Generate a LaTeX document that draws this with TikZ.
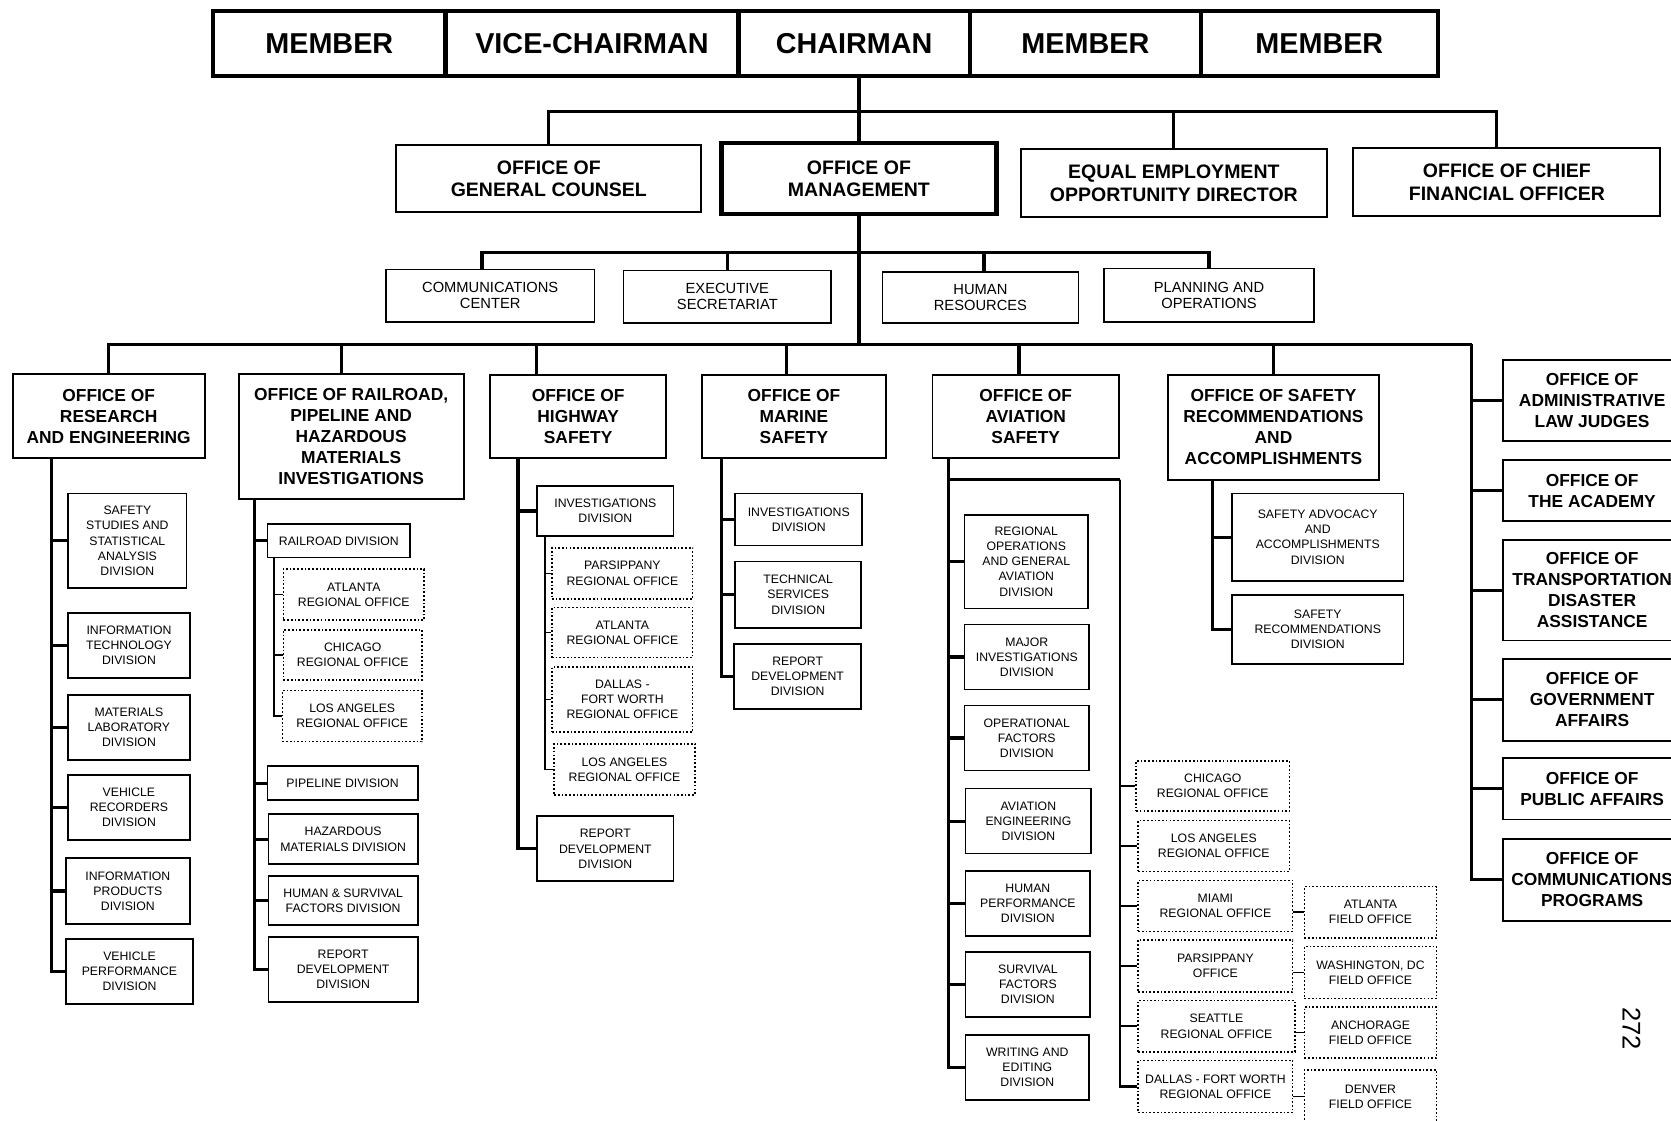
\documentclass[tikz,border=0pt]{standalone}
\usepackage{fontspec}
\setmainfont{Liberation Sans}

\newcommand{\boardfont}{\fontsize{27}{30}\selectfont\bfseries}
\newcommand{\officefont}{\fontsize{18.3}{21}\selectfont\bfseries}
\newcommand{\stafffont}{\fontsize{13.8}{15}\selectfont}
\newcommand{\headfont}{\fontsize{16.3}{19.7}\selectfont\bfseries}
\newcommand{\divfont}{\fontsize{11.5}{14.2}\selectfont}

\begin{document}
\begin{tikzpicture}[x=1pt, y=-1pt,
        sz/.style 2 args={minimum width=#1pt, minimum height=#2pt},
        board/.style={draw, line width=4pt, inner sep=0pt, font=\boardfont},
        office/.style={draw, line width=1.8pt, inner sep=0pt, align=center, font=\officefont},
        staff/.style={draw, line width=1.5pt, inner sep=0pt, align=center, font=\stafffont},
        head/.style={draw, line width=1.8pt, inner sep=0pt, align=center, font=\headfont},
        division/.style={draw, line width=1.6pt, inner sep=0pt, align=center, font=\divfont},
        regional/.style={draw, line width=1.4pt, dash pattern=on 1.6pt off 1.9pt, inner sep=0pt, align=center, font=\divfont},
        link/.style={line width=3pt},
        rolink/.style={line width=2pt},
        sublink/.style={line width=1.4pt},
        ]
        \path[fill=white, use as bounding box] (0,0) rectangle (1568,1051);

        %Board
        \node[board, sz={218}{61}]   (member1) at (309,40.5)    {MEMBER};
        \node[board, sz={275}{61}]   (vice)    at (555.5,40.5)  {VICE-CHAIRMAN};
        \node[board, sz={217}{61}]   (chair)   at (801.5,40.5)  {CHAIRMAN};
        \node[board, sz={217}{61}]   (member2) at (1018.5,40.5) {MEMBER};
        \node[board, sz={222}{61}]   (member3) at (1238,40.5)   {MEMBER};

        %Staff offices
        \node[office, sz={286}{63}]  (counsel) at (515,167.5)   {OFFICE OF\\GENERAL COUNSEL};
        \node[office, sz={258}{67}, line width=4pt] (mgmt) at (806,167.5) {OFFICE OF\\MANAGEMENT};
        \node[office, sz={287}{64}]  (eeo)     at (1101.5,172)  {EQUAL EMPLOYMENT\\OPPORTUNITY DIRECTOR};
        \node[office, sz={288}{64}]  (cfo)     at (1414,171)    {OFFICE OF CHIEF\\FINANCIAL OFFICER};

        \node[staff, sz={196}{49}]   (comm)    at (460,277.5)   {COMMUNICATIONS\\CENTER};
        \node[staff, sz={195}{49}]   (exec)    at (682.5,278.5) {EXECUTIVE\\SECRETARIAT};
        \node[staff, sz={184}{48}]   (hr)      at (920,279)     {HUMAN\\RESOURCES};
        \node[staff, sz={197}{50}]   (plan)    at (1134.5,277)  {PLANNING AND\\OPERATIONS};

        %Program offices
        \node[head, sz={180}{79}]    (research) at (102,390.5)  {OFFICE OF\\RESEARCH\\AND ENGINEERING};
        \node[head, sz={211}{117}]   (rail)     at (329.5,409.5) {OFFICE OF RAILROAD,\\PIPELINE AND\\HAZARDOUS\\MATERIALS\\INVESTIGATIONS};
        \node[head, sz={165}{78}]    (highway)  at (542.5,391)  {OFFICE OF\\HIGHWAY\\SAFETY};
        \node[head, sz={172}{78}]    (marine)   at (745,391)    {OFFICE OF\\MARINE\\SAFETY};
        \node[head, sz={175}{78}]    (aviation) at (962.5,391)  {OFFICE OF\\AVIATION\\SAFETY};
        \node[head, sz={198}{98}]    (safety)   at (1195,401)   {OFFICE OF SAFETY\\RECOMMENDATIONS\\AND\\ACCOMPLISHMENTS};

        \node[head, sz={168}{76}]    (alj)      at (1494,376)   {OFFICE OF\\ADMINISTRATIVE\\LAW JUDGES};
        \node[head, sz={168}{57}]    (academy)  at (1494,460.5) {OFFICE OF\\THE ACADEMY};
        \node[head, sz={168}{94}]    (tda)      at (1494,554)   {OFFICE OF\\TRANSPORTATION\\DISASTER\\ASSISTANCE};
        \node[head, sz={168}{77}]    (gov)      at (1494,656.5) {OFFICE OF\\GOVERNMENT\\AFFAIRS};
        \node[head, sz={168}{58}]    (pub)      at (1494,740)   {OFFICE OF\\PUBLIC AFFAIRS};
        \node[head, sz={168}{77}]    (cprog)    at (1494,825.5) {OFFICE OF\\COMMUNICATIONS\\PROGRAMS};

        %Research and engineering
        \node[division, sz={111}{89}] (ssad) at (119.5,507.5) {SAFETY\\STUDIES AND\\STATISTICAL\\ANALYSIS\\DIVISION};
        \node[division, sz={114}{61}] (itd)  at (121,605.5)   {INFORMATION\\TECHNOLOGY\\DIVISION};
        \node[division, sz={114}{61}] (mld)  at (121,682.5)   {MATERIALS\\LABORATORY\\DIVISION};
        \node[division, sz={114}{61}] (vrd)  at (121,757.5)   {VEHICLE\\RECORDERS\\DIVISION};
        \node[division, sz={116}{62}] (ipd)  at (120,836)     {INFORMATION\\PRODUCTS\\DIVISION};
        \node[division, sz={119}{61}] (vpd)  at (121.5,911.5) {VEHICLE\\PERFORMANCE\\DIVISION};

        %Railroad, pipeline and hazardous materials
        \node[division, sz={134}{31}] (rrd)  at (318,507.5)   {RAILROAD DIVISION};
        \node[regional, sz={132}{48}] (rATL) at (332,558)     {ATLANTA\\REGIONAL OFFICE};
        \node[regional, sz={130}{47}] (rCHI) at (331,614.5)   {CHICAGO\\REGIONAL OFFICE};
        \node[regional, sz={131}{48}] (rLA)  at (330.5,672)   {LOS ANGELES\\REGIONAL OFFICE};
        \node[division, sz={141}{32}] (pld)  at (321.5,735)   {PIPELINE DIVISION};
        \node[division, sz={140}{47}] (hmd)  at (322,787.5)   {HAZARDOUS\\MATERIALS DIVISION};
        \node[division, sz={140}{46}] (hsf)  at (322,845)     {HUMAN \& SURVIVAL\\FACTORS DIVISION};
        \node[division, sz={140}{61}] (rRep) at (322,909.5)   {REPORT\\DEVELOPMENT\\DIVISION};

        %Highway
        \node[division, sz={128}{47}] (hInv) at (568,479.5)   {INVESTIGATIONS\\DIVISION};
        \node[regional, sz={132}{48}] (hPAR) at (584,538)     {PARSIPPANY\\REGIONAL OFFICE};
        \node[regional, sz={132}{47}] (hATL) at (584,593.5)   {ATLANTA\\REGIONAL OFFICE};
        \node[regional, sz={132}{61}] (hDFW) at (584,656.5)   {DALLAS -\\FORT WORTH\\REGIONAL OFFICE};
        \node[regional, sz={132}{48}] (hLA)  at (586,722)     {LOS ANGELES\\REGIONAL OFFICE};
        \node[division, sz={128}{61}] (hRep) at (568,796.5)   {REPORT\\DEVELOPMENT\\DIVISION};

        %Marine
        \node[division, sz={119}{49}] (mInv)  at (749.5,487.5) {INVESTIGATIONS\\DIVISION};
        \node[division, sz={118}{62}] (mTech) at (749,558)     {TECHNICAL\\SERVICES\\DIVISION};
        \node[division, sz={119}{61}] (mRep)  at (748.5,634.5) {REPORT\\DEVELOPMENT\\DIVISION};

        %Aviation
        \node[division, sz={116}{88}] (aROG)  at (963,527)     {REGIONAL\\OPERATIONS\\AND GENERAL\\AVIATION\\DIVISION};
        \node[division, sz={117}{61}] (aMaj)  at (963.5,616.5) {MAJOR\\INVESTIGATIONS\\DIVISION};
        \node[division, sz={117}{61}] (aOps)  at (963.5,692.5) {OPERATIONAL\\FACTORS\\DIVISION};
        \node[division, sz={118}{61}] (aEng)  at (965,770.5)   {AVIATION\\ENGINEERING\\DIVISION};
        \node[division, sz={117}{61}] (aHum)  at (964.5,847.5) {HUMAN\\PERFORMANCE\\DIVISION};
        \node[division, sz={117}{61}] (aSurv) at (964.5,923.5) {SURVIVAL\\FACTORS\\DIVISION};
        \node[division, sz={116}{61}] (aWrit) at (964,1001.5)  {WRITING AND\\EDITING\\DIVISION};

        \node[regional, sz={144}{47}] (aCHI) at (1138,737.5)   {CHICAGO\\REGIONAL OFFICE};
        \node[regional, sz={142}{48}] (aLA)  at (1139,794)     {LOS ANGELES\\REGIONAL OFFICE};
        \node[regional, sz={145}{48}] (aMIA) at (1140.5,850)   {MIAMI\\REGIONAL OFFICE};
        \node[regional, sz={145}{49}] (aPAR) at (1140.5,906.5) {PARSIPPANY\\OFFICE};
        \node[regional, sz={147}{48}] (aSEA) at (1141.5,963)   {SEATTLE\\REGIONAL OFFICE};
        \node[regional, sz={145}{49}] (aDFW) at (1140.5,1019.5) {DALLAS - FORT WORTH\\REGIONAL OFFICE};

        \node[regional, sz={124}{48}] (fATL) at (1286,856)     {ATLANTA\\FIELD OFFICE};
        \node[regional, sz={124}{49}] (fWAS) at (1286,912.5)   {WASHINGTON, DC\\FIELD OFFICE};
        \node[regional, sz={124}{48}] (fANC) at (1286,969)     {ANCHORAGE\\FIELD OFFICE};
        \node[regional, sz={124}{50}] (fDEN) at (1286,1029)    {DENVER\\FIELD OFFICE};

        %Safety recommendations
        \node[division, sz={161}{82}] (sAdv) at (1236.5,504)   {SAFETY ADVOCACY\\AND\\ACCOMPLISHMENTS\\DIVISION};
        \node[division, sz={161}{65}] (sRec) at (1236.5,590.5) {SAFETY\\RECOMMENDATIONS\\DIVISION};

        \node[font=\fontsize{24}{24}\selectfont, rotate=-90] (pageno) at (1531,965) {272};

        %Lines
        \coordinate (busA) at (806,105);
        \coordinate (busB) at (806,237);
        \coordinate (busC) at (806,323);
        \coordinate (rcTop) at (1381,323);
        \draw[link] (mgmt.north |- chair.south) -- (mgmt.north);
        \draw[link] (counsel.north) |- (busA) -| ([xshift=135pt]cfo.north west);
        \draw[link] (eeo.north) -- (eeo.north |- busA);

        \draw[link] (mgmt.south) -- (busC);
        \draw[link] ([xshift=91pt]comm.north west) |- (busB) -| (plan.north);
        \draw[link] (exec.north) -- (exec.north |- busB);
        \draw[link] ([xshift=96pt]hr.north west) -- ([xshift=96pt]hr.north west |- busB);

        \draw[link] (research.north) |- (busC) -- (rcTop);
        \foreach \n/\dx in {rail/97, highway/44, marine/80, aviation/82, safety/100}
            \draw[link] ([xshift=\dx pt]\n.north west) -- ([xshift=\dx pt]\n.north west |- busC);
        \foreach \n in {alj, academy, tda, gov, pub, cprog}
            \draw[link] (rcTop) |- (\n.west);

        \coordinate (reT) at ([xshift=37pt]research.south west);
        \foreach \n in {ssad, itd, mld, vrd, ipd, vpd}
            \draw[link] (reT) |- (\n.west);

        \coordinate (raT) at ([xshift=16pt]rail.south west);
        \foreach \n in {rrd, pld, hmd, hsf, rRep}
            \draw[link] (raT) |- (\n.west);
        \coordinate (rrT) at ([xshift=7pt]rrd.south west);
        \foreach \n in {rATL, rCHI, rLA}
            \draw[sublink] (rrT) |- (\n.west);

        \coordinate (hiT) at ([xshift=27pt]highway.south west);
        \foreach \n in {hInv, hRep}
            \draw[link] (hiT) |- (\n.west);
        \coordinate (hvT) at ([xshift=8pt]hInv.south west);
        \foreach \n in {hPAR, hATL, hDFW, hLA}
            \draw[sublink] (hvT) |- (\n.west);

        \coordinate (maT) at ([xshift=19pt]marine.south west);
        \foreach \n in {mInv, mTech, mRep}
            \draw[link] (maT) |- (\n.west);

        \coordinate (avT) at ([xshift=16pt]aviation.south west);
        \foreach \n in {aROG, aMaj, aOps, aEng, aHum, aSurv, aWrit}
            \draw[link] (avT) |- (\n.west);
        \coordinate (avRO) at (1051,450);
        \draw[rolink] (avT |- avRO) -- (avRO);
        \foreach \n in {aCHI, aLA, aMIA, aPAR, aSEA, aDFW}
            \draw[rolink] (avRO) |- (\n.west);
        \foreach \a/\b in {aMIA/fATL, aPAR/fWAS, aSEA/fANC, aDFW/fDEN}
            \draw[sublink] (\b.west -| \a.east) -- (\b.west);

        \coordinate (saT) at ([xshift=43pt]safety.south west);
        \foreach \n in {sAdv, sRec}
            \draw[link] (saT) |- (\n.west);
    \end{tikzpicture}
\end{document}
